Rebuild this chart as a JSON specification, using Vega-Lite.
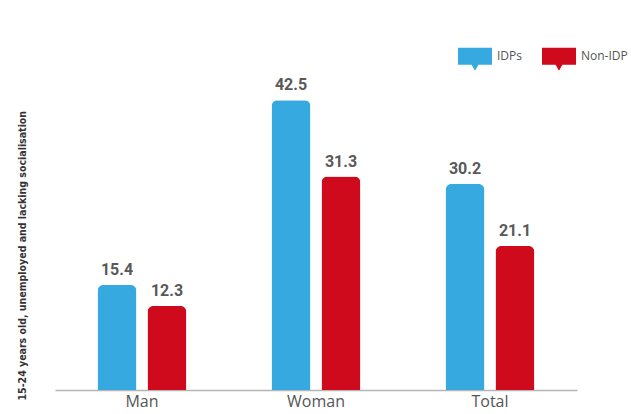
{
  "$schema": "https://vega.github.io/schema/vega-lite/v6.json",
  "width": 522,
  "height": 341,
  "autosize": "none",
  "padding": {"left": 55, "top": 49, "right": 54, "bottom": 24},
  "background": "white",
  "config": {"view": {"stroke": null}},
  "data": {
    "values": [
      {"category": "Man", "group": "IDPs", "value": 15.4},
      {"category": "Man", "group": "Non-IDP", "value": 12.3},
      {"category": "Woman", "group": "IDPs", "value": 42.5},
      {"category": "Woman", "group": "Non-IDP", "value": 31.3},
      {"category": "Total", "group": "IDPs", "value": 30.2},
      {"category": "Total", "group": "Non-IDP", "value": 21.1}
    ]
  },
  "encoding": {
    "x": {
      "field": "category",
      "type": "nominal",
      "sort": ["Man", "Woman", "Total"],
      "scale": {"paddingInner": 0.489, "paddingOuter": 0.2445},
      "axis": {
        "title": null,
        "labelAngle": 0,
        "labelFont": "Open Sans",
        "labelFontSize": 16,
        "labelColor": "#555555",
        "labelPadding": 3,
        "ticks": false,
        "domainColor": "#b5b5b5",
        "domainWidth": 1.5
      }
    },
    "xOffset": {
      "field": "group",
      "type": "nominal",
      "sort": ["IDPs", "Non-IDP"],
      "scale": {"paddingInner": 0.22, "paddingOuter": 0}
    },
    "y": {
      "field": "value",
      "type": "quantitative",
      "scale": {"domain": [0, 50], "nice": false},
      "axis": {
        "title": "15-24 years old, unemployed and lacking socialisation",
        "titleFont": "DejaVu Sans Condensed, Liberation Sans, sans-serif",
        "titleFontSize": 10.5,
        "titleFontWeight": "bold",
        "titleColor": "#333333",
        "titleAngle": 270,
        "titleAlign": "left",
        "titleBaseline": "bottom",
        "titleX": -28,
        "titleY": 351,
        "domain": false,
        "ticks": false,
        "labels": false,
        "grid": false
      }
    }
  },
  "layer": [
    {
      "mark": {"type": "bar", "cornerRadiusTopLeft": 6, "cornerRadiusTopRight": 6},
      "encoding": {
        "color": {
          "field": "group",
          "type": "nominal",
          "sort": ["IDPs", "Non-IDP"],
          "scale": {"domain": ["IDPs", "Non-IDP"], "range": ["#36a9e0", "#d00a1d"]},
          "legend": {
            "title": null,
            "orient": "none",
            "direction": "horizontal",
            "legendX": 403,
            "legendY": -10,
            "padding": 0,
            "symbolType": "M-1,-0.5 H1 V0.5 H0.2 L0,0.85 L-0.2,0.5 H-1 Z",
            "symbolSize": 1156,
            "symbolStrokeWidth": 0,
            "labelFont": "Open Sans",
            "labelFontSize": 12,
            "labelColor": "#555555",
            "labelOffset": 5,
            "columnPadding": 20
          }
        }
      }
    },
    {
      "mark": {
        "type": "text",
        "baseline": "bottom",
        "dy": -7,
        "font": "Roboto",
        "fontSize": 16,
        "fontWeight": "bold",
        "color": "#595959"
      },
      "encoding": {
        "text": {"field": "value", "type": "quantitative", "format": ".1f"}
      }
    }
  ]
}
